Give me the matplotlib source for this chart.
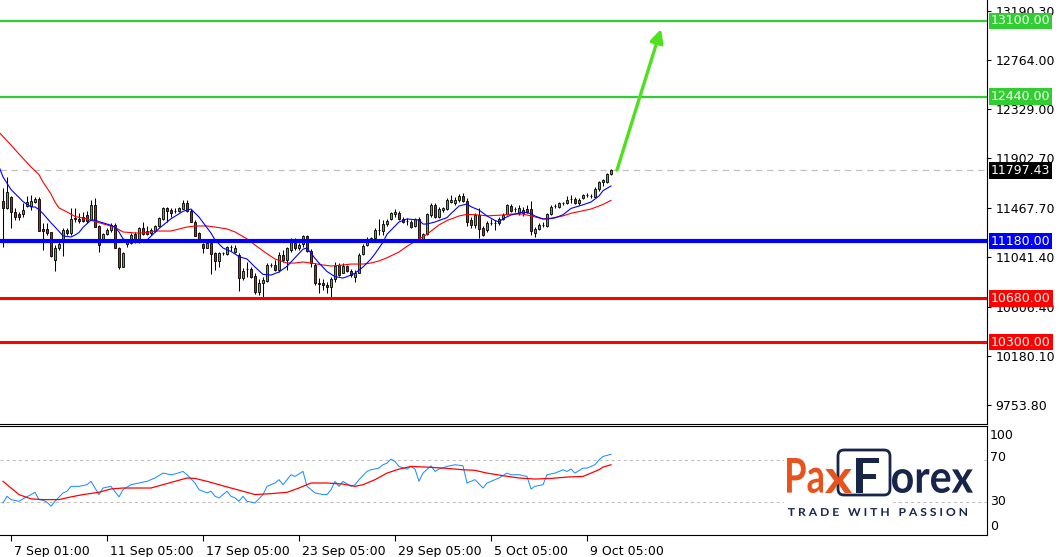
import matplotlib
matplotlib.use('Agg')
import matplotlib.pyplot as plt
import matplotlib.transforms as mtransforms
from matplotlib.patches import Rectangle, FancyBboxPatch, PathPatch
from matplotlib.textpath import TextPath
from matplotlib.font_manager import FontProperties

# H4 candles (oldest first)
opens = [11530, 11469, 11565, 11434, 11417, 11417, 11486, 11486, 11521, 11548,
         11286, 11286, 11260, 11015, 11120, 11173, 11277, 11251, 11382, 11373,
         11391, 11408, 11364, 11495, 11312, 11181, 11242, 11277, 11321, 11120,
         10954, 11155, 11164, 11242, 11173, 11295, 11268, 11251, 11268, 11312,
         11373, 11469, 11452, 11446, 11443, 11460, 11513, 11443, 11347, 11251,
         11155, 11120, 11164, 11077, 11007, 11077, 11068, 11129, 11085, 11059,
         10858, 10937, 10937, 10876, 10737, 10815, 10832, 10972, 10972, 10928,
         11059, 11015, 11103, 11164, 11120, 11155, 11225, 11094, 10972, 10815,
         10815, 10797, 10780, 10850, 10972, 10902, 10963, 10919, 10867, 10902,
         11068, 11146, 11181, 11207, 11277, 11268, 11330, 11373, 11417, 11425,
         11373, 11356, 11347, 11312, 11373, 11199, 11242, 11408, 11495, 11391,
         11452, 11460, 11521, 11513, 11539, 11574, 11530, 11364, 11321, 11408,
         11295, 11277, 11338, 11338, 11338, 11373, 11417, 11486, 11460, 11425,
         11425, 11460, 11460, 11251, 11286, 11321, 11312, 11417, 11486, 11478,
         11513, 11513, 11548, 11548, 11513, 11556, 11582, 11574, 11565, 11635,
         11696, 11696, 11766]
highs = [11643, 11739, 11574, 11469, 11434, 11513, 11574, 11582, 11565, 11565,
         11338, 11338, 11260, 11146, 11181, 11295, 11295, 11469, 11469, 11425,
         11434, 11443, 11539, 11556, 11321, 11251, 11295, 11338, 11338, 11129,
         11085, 11190, 11251, 11260, 11303, 11347, 11312, 11295, 11321, 11391,
         11478, 11478, 11469, 11469, 11478, 11539, 11539, 11460, 11364, 11260,
         11164, 11173, 11173, 11085, 11085, 11085, 11138, 11146, 11146, 11077,
         10946, 10998, 10954, 10902, 10850, 10867, 10989, 10989, 11015, 11085,
         11103, 11129, 11207, 11207, 11164, 11234, 11234, 11111, 10989, 10858,
         10850, 10823, 10867, 10998, 10989, 10989, 10972, 10937, 10928, 11077,
         11155, 11216, 11216, 11295, 11373, 11364, 11373, 11434, 11460, 11443,
         11391, 11382, 11364, 11382, 11391, 11251, 11425, 11513, 11513, 11478,
         11478, 11556, 11582, 11565, 11591, 11600, 11556, 11391, 11425, 11469,
         11312, 11356, 11373, 11364, 11391, 11425, 11504, 11504, 11478, 11495,
         11478, 11495, 11530, 11303, 11338, 11347, 11425, 11495, 11504, 11521,
         11521, 11574, 11582, 11565, 11556, 11591, 11600, 11591, 11652, 11704,
         11722, 11774, 11810]
lows = [11129, 11460, 11295, 11364, 11364, 11391, 11478, 11452, 11513, 11268,
        11103, 11234, 11042, 10919, 11103, 11050, 11234, 11234, 11347, 11338,
        11347, 11338, 11364, 11303, 11085, 11173, 11234, 11260, 11120, 10937,
        10954, 11129, 11155, 11164, 11164, 11234, 11234, 11234, 11260, 11303,
        11364, 11347, 11391, 11425, 11434, 11460, 11434, 11347, 11225, 11173,
        11077, 11120, 10893, 10928, 10954, 11059, 11059, 11094, 11077, 10745,
        10841, 10867, 10858, 10719, 10710, 10684, 10823, 10954, 10919, 10911,
        10998, 10928, 11085, 11103, 11103, 11129, 11085, 10954, 10797, 10728,
        10754, 10728, 10684, 10823, 10876, 10902, 10911, 10867, 10823, 10902,
        11059, 11138, 11173, 11199, 11234, 11234, 11312, 11364, 11391, 11364,
        11338, 11321, 11295, 11303, 11199, 11190, 11234, 11391, 11382, 11382,
        11434, 11452, 11513, 11495, 11521, 11521, 11312, 11295, 11295, 11207,
        11225, 11260, 11321, 11277, 11321, 11364, 11408, 11434, 11434, 11408,
        11399, 11425, 11234, 11216, 11277, 11303, 11303, 11408, 11469, 11469,
        11495, 11504, 11513, 11504, 11495, 11548, 11565, 11556, 11556, 11617,
        11661, 11687, 11757]
closes = [11469, 11609, 11434, 11391, 11391, 11452, 11521, 11530, 11548, 11268,
          11268, 11251, 11050, 11120, 11155, 11277, 11251, 11373, 11373, 11356,
          11356, 11356, 11495, 11303, 11146, 11242, 11277, 11321, 11120, 10954,
          11077, 11175, 11234, 11173, 11295, 11242, 11242, 11277, 11312, 11382,
          11469, 11443, 11425, 11443, 11469, 11513, 11443, 11347, 11225, 11173,
          11120, 11164, 11068, 11007, 11077, 11080, 11129, 11132, 11120, 10858,
          10919, 10934, 10867, 10737, 10815, 10841, 10972, 10975, 10928, 11059,
          11015, 11120, 11190, 11120, 11146, 11225, 11094, 10989, 10815, 10806,
          10797, 10780, 10850, 10963, 10885, 10963, 10919, 10885, 10902, 11059,
          11138, 11190, 11207, 11277, 11280, 11330, 11356, 11425, 11434, 11373,
          11347, 11353, 11303, 11373, 11207, 11242, 11417, 11495, 11391, 11460,
          11469, 11539, 11539, 11539, 11574, 11530, 11347, 11321, 11408, 11286,
          11234, 11338, 11335, 11341, 11373, 11408, 11495, 11443, 11457, 11469,
          11452, 11434, 11268, 11286, 11321, 11324, 11417, 11478, 11489, 11513,
          11516, 11539, 11551, 11513, 11539, 11582, 11585, 11577, 11635, 11696,
          11713, 11766, 11797.43]

# moving averages on the price chart (bar index, value)
fast_ma_bars = [-1, 0, 2, 4, 5, 7, 8, 9, 10, 12, 13, 14, 15, 17, 18, 19, 20, 22, 23, 24,
                25, 27, 28, 29, 30, 31, 34, 36, 39, 42, 45, 47, 49, 52, 53, 55, 57, 59,
                61, 63, 65, 67, 69, 71, 73, 75, 76, 78, 79, 81, 83, 85, 86, 88, 90, 92,
                93, 95, 96, 99, 101, 104, 105, 106, 108, 111, 112, 114, 116, 117, 119,
                121, 123, 124, 125, 127, 129, 130, 132, 133, 135, 136, 138, 140, 142,
                145, 147, 149, 150, 152]
fast_ma = [11830, 11740, 11630, 11560, 11525, 11478, 11478, 11455, 11420, 11340, 11303,
           11265, 11225, 11216, 11233, 11255, 11300, 11364, 11364, 11350, 11340, 11318,
           11303, 11260, 11200, 11185, 11181, 11190, 11290, 11375, 11440, 11460, 11390,
           11250, 11190, 11120, 11090, 11045, 11024, 10954, 10890, 10884, 10911, 10960,
           11035, 11110, 11120, 11030, 10989, 10915, 10870, 10858, 10870, 10900, 10954,
           11024, 11070, 11170, 11240, 11347, 11373, 11364, 11329, 11329, 11347, 11385,
           11420, 11486, 11504, 11480, 11451, 11400, 11360, 11347, 11375, 11408, 11425,
           11434, 11420, 11399, 11373, 11373, 11382, 11410, 11465, 11497, 11521, 11574,
           11620, 11661]
slow_ma_bars = [-1, 2, 4, 7, 9, 10, 12, 13, 14, 16, 18, 21, 23, 26, 28, 30, 33, 35, 38,
                42, 46, 48, 51, 53, 56, 58, 61, 63, 66, 68, 71, 73, 75, 77, 80, 82, 85,
                87, 90, 92, 94, 96, 99, 101, 104, 106, 109, 111, 114, 116, 119, 121, 125,
                127, 130, 132, 135, 137, 140, 142, 145, 147, 150, 152]
slow_ma = [12130, 12018, 11940, 11827, 11760, 11696, 11590, 11520, 11470, 11434, 11395,
           11373, 11350, 11321, 11300, 11260, 11251, 11251, 11268, 11268, 11303, 11312,
           11312, 11303, 11286, 11260, 11200, 11146, 11070, 11024, 10989, 10989, 10998,
           10989, 10972, 10963, 10972, 10980, 10980, 10989, 11007, 11035, 11085, 11135,
           11198, 11240, 11321, 11360, 11399, 11414, 11408, 11400, 11408, 11416, 11416,
           11400, 11373, 11380, 11400, 11423, 11445, 11460, 11500, 11535]

# RSI window (bar index, value)
rsi_bars = [0, 1, 2, 4, 5, 7, 8, 9, 10, 11, 12, 13, 15, 16, 17, 19, 21, 22, 23, 24, 25,
            27, 29, 30, 32, 34, 36, 38, 40, 42, 43, 45, 46, 48, 49, 51, 52, 53, 54, 56,
            57, 58, 59, 60, 61, 63, 65, 66, 68, 69, 70, 72, 73, 75, 76, 78, 80, 81, 82,
            83, 84, 85, 87, 88, 89, 91, 92, 94, 95, 96, 97, 98, 99, 101, 102, 103, 104,
            105, 107, 108, 109, 111, 113, 115, 116, 118, 120, 121, 123, 124, 126, 127,
            129, 131, 132, 133, 135, 136, 138, 140, 141, 142, 143, 145, 146, 148, 149,
            150, 152]
rsi = [29.0, 35.4, 32.2, 30.6, 32.9, 37.0, 39.2, 32.2, 31.6, 29.7, 25.9, 30.6, 38.6,
       40.2, 44.9, 44.9, 46.5, 49.7, 43.3, 37.0, 43.3, 44.9, 34.8, 41.7, 46.5, 48.1,
       49.7, 52.9, 57.6, 56.0, 56.7, 59.2, 56.0, 48.1, 41.7, 38.6, 40.2, 35.4, 33.8,
       40.2, 35.4, 33.8, 30.6, 35.4, 30.6, 29.0, 37.0, 44.9, 48.1, 51.3, 46.5, 56.0,
       54.4, 59.2, 44.9, 38.6, 37.0, 37.0, 41.7, 49.7, 44.9, 49.7, 44.9, 46.5, 51.3,
       59.2, 60.8, 62.4, 65.6, 67.1, 71.0, 68.7, 64.0, 61.4, 64.0, 61.4, 49.7, 57.6,
       64.6, 59.2, 61.4, 64.0, 65.6, 64.6, 48.1, 51.3, 43.3, 48.1, 51.3, 52.9, 57.6,
       56.0, 56.0, 54.4, 42.4, 44.9, 46.5, 56.0, 57.6, 60.8, 59.2, 61.4, 57.6, 62.4,
       62.4, 65.6, 70.3, 73.5, 75.7]
signal_bars = [0, 2, 4, 7, 10, 14, 17, 20, 24, 27, 30, 37, 40, 43, 46, 48, 51, 54, 57,
               60, 63, 67, 71, 74, 77, 81, 85, 88, 90, 93, 96, 99, 102, 106, 110, 115,
               118, 121, 125, 129, 133, 137, 141, 145, 147, 149, 150, 152]
signal = [49.7, 43.3, 37.0, 32.9, 32.2, 32.2, 34.8, 37.0, 39.2, 42.4, 43.3, 43.3, 46.5,
          49.7, 52.9, 52.5, 49.7, 46.5, 43.3, 40.2, 37.0, 37.9, 39.2, 43.3, 48.1, 48.1,
          47.1, 44.9, 46.5, 51.3, 57.6, 61.4, 64.0, 63.3, 62.4, 60.8, 60.2, 57.6, 55.1,
          52.9, 51.9, 52.5, 53.8, 54.4, 57.6, 60.8, 63.3, 65.6]

# levels drawn on the chart
green_levels = [13100, 12440]
blue_levels = [11180]
red_levels = [10680, 10300]
last_price = 11797.43
arrow_from = (153.5, 11800)
arrow_to = (164.5, 13030)

price_ticks = [9753.80, 10180.10, 10606.40, 11041.40, 11467.70, 11902.70, 12329.00,
               12764.00, 13190.30]
time_tick_bars = [2, 26, 50, 74, 98, 122, 146]
time_tick_labels = ['7 Sep 01:00', '11 Sep 05:00', '17 Sep 05:00', '23 Sep 05:00',
                    '29 Sep 05:00', '5 Oct 05:00', '9 Oct 05:00']

W, H = 1060, 557
plt.rcParams['font.family'] = ['DejaVu Sans']
plt.rcParams['lines.scale_dashes'] = False
fig = plt.figure(figsize=(W / 100, H / 100), dpi=100)
ax = fig.add_axes([0, 133 / H, 987 / W, 424 / H])
ax2 = fig.add_axes([0, 22 / H, 987 / W, 109 / H])

# ---- price panel
ax.set_xlim(-0.75, 246)
ax.set_ylim(9585, 13283)
for s in ['left', 'top']:
    ax.spines[s].set_visible(False)
for s in ['right', 'bottom']:
    ax.spines[s].set_linewidth(0.8)

n = len(closes)
xs = list(range(n))
ax.vlines(xs, lows, highs, color='black', lw=0.75, zorder=2)
body_col = ['#22cc22' if c >= o else '#dd1111' for o, c in zip(opens, closes)]
ax.bar(xs, [c - o for o, c in zip(opens, closes)], bottom=opens, width=0.55,
       color=body_col, edgecolor='black', linewidth=0.6, zorder=3)

ax.plot(slow_ma_bars, slow_ma, color='red', lw=0.8, zorder=4)
ax.plot(fast_ma_bars, fast_ma, color='blue', lw=0.8, zorder=4)

ax.axhline(last_price, color='#c0c0c0', lw=0.9, dashes=(4.5, 3.5), zorder=1)
for lv in green_levels:
    ax.axhline(lv, color='limegreen', lw=1.6, zorder=5)
for lv in blue_levels:
    ax.axhline(lv, color='#0000ff', lw=3.0, zorder=5)
for lv in red_levels:
    ax.axhline(lv, color='#ff0000', lw=2.2, zorder=5)

ax.annotate('', xy=arrow_to, xytext=arrow_from,
            arrowprops=dict(arrowstyle='-|>', color='#4fe01e', lw=2.4,
                            mutation_scale=20, shrinkA=0, shrinkB=0), zorder=6)

ax.set_xticks([])
ax.yaxis.tick_right()
ax.set_yticks(price_ticks)
ax.set_yticklabels(['%.2f' % p for p in price_ticks])
ax.tick_params(axis='y', direction='out', length=3, width=0.8, pad=3, labelsize=9)


def level_label(price, text, bg):
    ax.annotate(text, xy=(1, price), xycoords=('axes fraction', 'data'),
                xytext=(4, 0), textcoords='offset pixels', ha='left', va='center',
                fontsize=9, color='white', annotation_clip=False, zorder=10,
                bbox=dict(boxstyle='square,pad=0.14', fc=bg, ec='none'))


for lv in green_levels:
    level_label(lv, '%.2f' % lv, '#32cd32')
for lv in blue_levels:
    level_label(lv, '%.2f' % lv, '#0000ff')
for lv in red_levels:
    level_label(lv, '%.2f' % lv, '#ff0000')
level_label(last_price, '%.2f' % last_price, 'black')

# ---- RSI panel
ax2.set_xlim(-0.75, 246)
ax2.set_ylim(-1.7, 102.7)
ax2.spines['left'].set_visible(False)
for s in ['right', 'bottom', 'top']:
    ax2.spines[s].set_linewidth(0.8)
for lv in [70, 30]:
    ax2.axhline(lv, color='#c0c0c0', lw=0.8, dashes=(2.2, 2.2), zorder=1)
ax2.plot(rsi_bars, rsi, color='#1e90ff', lw=0.75, zorder=3)
ax2.plot(signal_bars, signal, color='red', lw=0.9, zorder=3)
ax2.set_yticks([])
for txt, yy in [('100', 94), ('70', 72.5), ('30', 30), ('0', 6)]:
    ax2.annotate(txt, xy=(1, yy), xycoords=('axes fraction', 'data'), xytext=(3, 0),
                 textcoords='offset pixels', ha='left', va='center', fontsize=9,
                 annotation_clip=False)
ax2.set_xticks(time_tick_bars)
ax2.set_xticklabels(time_tick_labels, ha='left', fontsize=9)
ax2.tick_params(axis='x', direction='out', length=4, width=0.8, pad=3)
shift = mtransforms.ScaledTranslation(3 / 100, 0, fig.dpi_scale_trans)
for lab in ax2.get_xticklabels():
    lab.set_transform(lab.get_transform() + shift)

# ---- PaxForex logo (pixel coordinates, top-left origin)
navy = '#17254a'
orange = '#e8531c'
ident = mtransforms.IdentityTransform()


def px_rect(x0, y0, x1, y1, **kw):
    fig.add_artist(Rectangle((x0, H - y1), x1 - x0, y1 - y0, transform=ident, **kw))


def fit_text(s, x0, x1, ytop, ybase, color, size_fam=('Lato', 'bold')):
    fp = FontProperties(family=size_fam[0], weight=size_fam[1])
    tp = TextPath((0, 0), s, size=100, prop=fp)
    ext = tp.get_extents()
    tr = (mtransforms.Affine2D().translate(-ext.x0, -ext.y0)
          .scale((x1 - x0) / ext.width, (ybase - ytop) / ext.height)
          .translate(x0, H - ybase))
    fig.add_artist(PathPatch(tp, transform=tr, fc=color, ec='none', zorder=12))


px_rect(784, 447, 982, 499, fc='white', ec='none', zorder=11)
px_rect(784, 499, 893, 521, fc='white', ec='none', zorder=11)
fig.add_artist(FancyBboxPatch((838, H - 495), 52, 45, boxstyle='round,pad=0,rounding_size=6',
                              transform=ident, fc='none', ec=navy, lw=2.0, zorder=12))
fit_text('Pa', 787, 823, 458, 493, orange)
fit_text('x', 825, 852, 469, 493, orange)
fit_text('F', 856, 879, 458, 493, navy)
fit_text('orex', 892, 973, 469, 493, navy)
fit_text('T R A D E   W I T H   P A S S I O N', 788, 967, 508, 516, navy)

fig.savefig('out.png', dpi=100)
